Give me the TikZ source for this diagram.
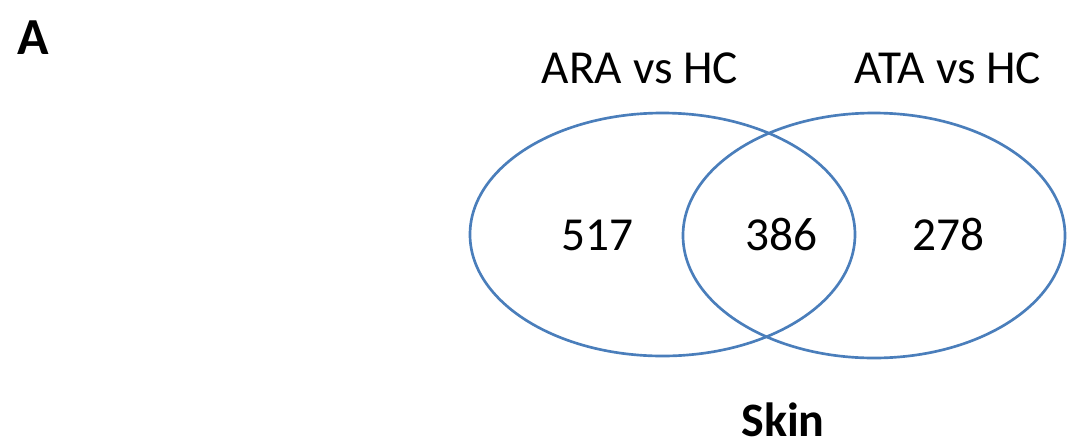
\documentclass[tikz,border=0pt]{standalone}
\usepackage{fontspec}
\setmainfont{Carlito}
\definecolor{vennblue}{HTML}{4A7EBB}
\begin{document}
\begin{tikzpicture}[x=0.75pt,y=-0.75pt,
  venn/.style={draw=vennblue,line width=2pt},
  lbl/.style={font=\fontsize{35.5}{40}\selectfont,anchor=base,inner sep=0pt},
  blbl/.style={font=\fontsize{36}{40}\selectfont\bfseries,anchor=base,inner sep=0pt,text depth=0pt}]
\useasboundingbox (0,0) rectangle (1068,444);
\coordinate (cl) at (662.5,234.5);
\coordinate (cr) at (874,235.5);
\draw[venn] (cl) ellipse [x radius=192.5, y radius=121.5];
\draw[venn] (cr) ellipse [x radius=191, y radius=122.5];
\node[blbl,font=\fontsize{39}{44}\selectfont\bfseries] (pa) at (33,54) {A};
\node[lbl] (ara) at (640,83) {ARA vs HC};
\node[lbl] (ata) at (948,83) {ATA vs HC};
\node[lbl] (n1) at (597,250) {517};
\node[lbl] (n2) at (781,250) {386};
\node[lbl] (n3) at (948,250) {278};
\node[blbl] (skin) at (783,436) {Skin};
\end{tikzpicture}
\end{document}
